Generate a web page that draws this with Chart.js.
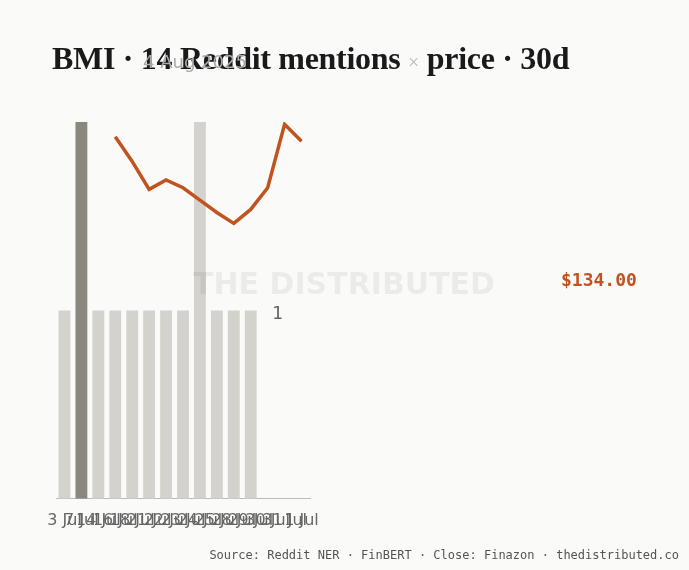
<!DOCTYPE html>
<html><head><meta charset="utf-8">
<script src="https://cdn.jsdelivr.net/npm/chart.js@4"></script>
<style>
body{margin:0;background:#fafaf8;}
#wrap{position:relative;width:689px;height:570px;}
h1{position:absolute;left:52px;top:40px;margin:0;font:bold 32px "Liberation Serif",serif;color:#1a1a1a;letter-spacing:-0.3px;}
#sub{position:absolute;left:143px;top:51px;font:18px "DejaVu Sans",sans-serif;color:#aaa;}
#src{position:absolute;right:10px;top:548px;font:12px "DejaVu Sans Mono",monospace;color:#555;}
#wm{position:absolute;left:193px;top:266px;font:bold 30px "DejaVu Sans",sans-serif;color:rgba(0,0,0,0.06);}
#last{position:absolute;left:561px;top:269px;font:bold 18px "DejaVu Sans Mono",monospace;color:#c0531f;}
#one{position:absolute;left:272px;top:302px;font:18px "DejaVu Sans Mono",monospace;color:#666;}
</style></head><body>
<div id="wrap">
<canvas id="c" width="689" height="570"></canvas>
<h1>BMI · 14 Reddit mentions <span style="color:#bbb;font-weight:normal;font-size:20px">×</span> price · 30d</h1>
<div id="sub">4 Aug 2025</div>
<div id="wm">THE DISTRIBUTED</div>
<div id="last">$134.00</div>
<div id="one">1</div>
<div id="src">Source: Reddit NER · FinBERT · Close: Finazon · thedistributed.co</div>
</div>
<script>
const labels = ["3 Jul","7 Jul","14 Jul","16 Jul","18 Jul","21 Jul","22 Jul","23 Jul","24 Jul","25 Jul","28 Jul","29 Jul","30 Jul","31 Jul","1 Jul"];
const mentions = [1,3,1,1,1,1,1,1,3,1,1,1,null,null,null];
const prices = [null,null,null,141.6,140.0,138.2,138.8,138.3,137.5,136.7,136.0,136.9,138.3,142.4,141.3];
const barColors = mentions.map((v,i)=> i===1 ? "#8a877f" : "#d4d2cd");

new Chart(document.getElementById("c"), {
  data: {
    labels: labels,
    datasets: [
      { type:"line", data:prices, yAxisID:"y1", borderColor:"#c0531f", borderWidth:3.5,
        pointRadius:0, tension:0, spanGaps:true },
      { type:"bar", data:mentions, yAxisID:"y", backgroundColor:barColors,
        categoryPercentage:1, barPercentage:0.7 }
    ]
  },
  options: {
    responsive:false, animation:false,
    layout:{ padding:{ left:56, right:379, top:122, bottom:36 } },
    plugins:{ legend:{display:false}, tooltip:{enabled:false} },
    scales:{
      x:{ grid:{display:false}, border:{color:"#bbb"},
          ticks:{ autoSkip:false, maxRotation:0, color:"#666", font:{family:"DejaVu Sans", size:16}, padding:4 } },
      y:{ min:0, max:2, display:false },
      y1:{ min:118.2, max:142.55, display:false }
    }
  }
});
</script>
</body></html>
